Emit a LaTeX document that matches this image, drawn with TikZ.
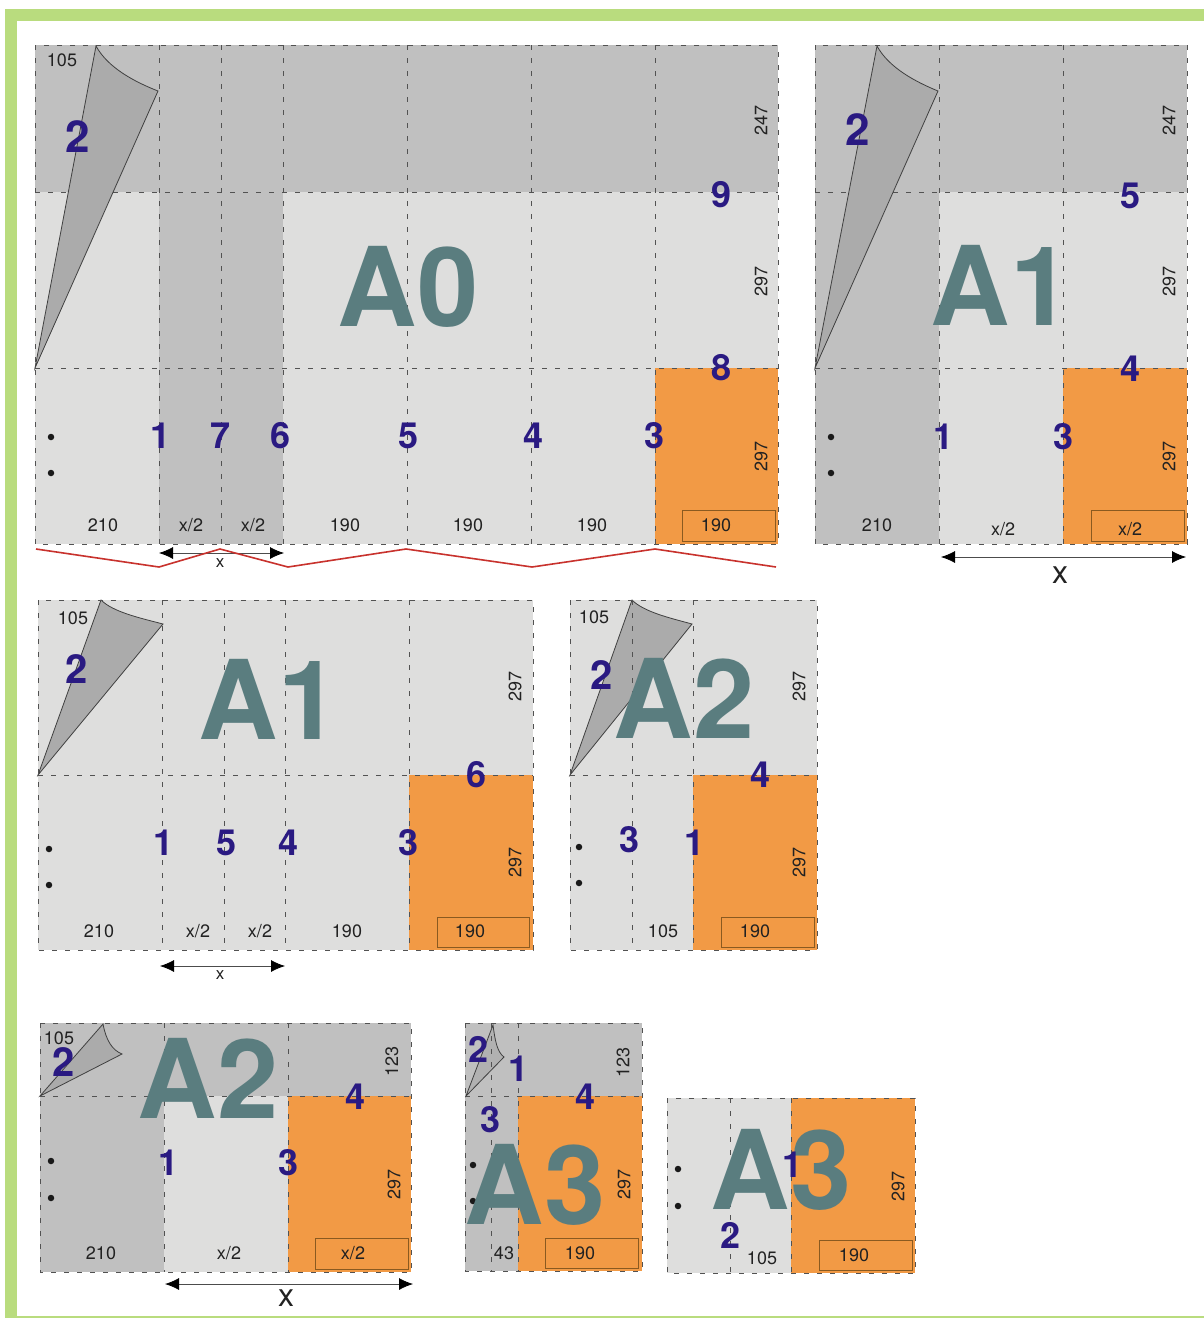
\documentclass[tikz,border=0pt]{standalone}
\usepackage{fontspec}
\setmainfont{TeX Gyre Heros}
\usetikzlibrary{arrows.meta}
\definecolor{lightp}{HTML}{DEDEDD}
\definecolor{darkp}{HTML}{C0C0C0}
\definecolor{flapc}{HTML}{ABABAB}
\definecolor{orangep}{HTML}{F29A45}
\definecolor{framegreen}{HTML}{B9DC7E}
\definecolor{bigtxt}{HTML}{5A7D7F}
\definecolor{numc}{HTML}{2A1A82}
\definecolor{boxc}{HTML}{8A5A20}
\definecolor{zigred}{HTML}{C8322D}
\definecolor{txtc}{HTML}{222222}
\tikzset{
  x=1pt,y=-1pt,
  fold/.style={draw=black!68,line width=1pt,dash pattern=on 5pt off 8pt},
  flap/.style={draw=black!75,fill=flapc,line width=0.8pt},
  big/.style={inner sep=0,text=bigtxt,font=\fontsize{#1}{#1}\selectfont\bfseries},
  nr/.style={inner sep=0,xshift=0.8pt,text=numc,font=\fontsize{#1}{#1}\selectfont\bfseries},
  nr/.default=36,
  lab/.style={inner sep=0,text=txtc,font=\fontsize{18}{18}\selectfont},
  vlab/.style={lab,rotate=90},
  sizebox/.style={draw=boxc,line width=1pt},
  hole/.style={circle,fill=black!90,inner sep=0,minimum size=6.5pt},
  dimarrow/.style={draw=black!70,line width=0.8pt,{Latex[length=14pt,width=12pt,black]}-{Latex[length=14pt,width=12pt,black]}},
  zig/.style={draw=zigred,line width=1.6pt}
}
\begin{document}
\begin{tikzpicture}
\useasboundingbox (0,0) rectangle (1204,1318);
% frame
\fill[framegreen] (5,9) rectangle (1204,1318);
\fill[white] (17,21) rectangle (1204,1316);
%
% A0
\fill[lightp] (35,45) rectangle (778,544);
\fill[darkp] (35,45) rectangle (778,192);
\fill[darkp] (159,192) rectangle (283,544);
\fill[orangep] (655,368) rectangle (778,544);
\draw[fold] (35,45) rectangle (778,544);
\draw[fold] (35,192) -- (778,192);
\draw[fold] (35,368) -- (778,368);
\foreach \vx in {159,221,283,407,531,655} \draw[fold] (\vx,45) -- (\vx,544);
\draw[flap] (35,368) -- (96,46) .. controls (108,68) and (135,82) .. (158,91) -- cycle;
\node[sizebox,minimum width=93pt,minimum height=31pt,anchor=north west] (a0box) at (682,510) {};
%
% A1 top right
\fill[lightp] (815,45) rectangle (1187,544);
\fill[darkp] (815,45) rectangle (1187,192);
\fill[darkp] (815,192) rectangle (939,544);
\fill[orangep] (1063,368) rectangle (1187,544);
\draw[fold] (815,45) rectangle (1187,544);
\draw[fold] (815,192) -- (1187,192);
\draw[fold] (815,368) -- (1187,368);
\foreach \vx in {939,1063} \draw[fold] (\vx,45) -- (\vx,544);
\draw[flap] (815,368) -- (877,46) .. controls (889,68) and (916,82) .. (938,91) -- cycle;
\node[sizebox,minimum width=93pt,minimum height=31pt,anchor=north west] (a1box) at (1091,510) {};
%
% A1 second row
\fill[lightp] (38,600) rectangle (533,950);
\fill[orangep] (409,775) rectangle (533,950);
\draw[flap] (38,775) -- (101,600) .. controls (113,612) and (140,618) .. (163,624) -- cycle;
\draw[fold] (38,600) rectangle (533,950);
\draw[fold] (38,775) -- (533,775);
\foreach \vx in {162,224,285,409} \draw[fold] (\vx,600) -- (\vx,950);
\node[sizebox,minimum width=92pt,minimum height=30pt,anchor=north west] (a1bbox) at (437,917) {};
%
% A2 second row
\fill[lightp] (570,600) rectangle (817,950);
\fill[orangep] (693,775) rectangle (817,950);
\draw[flap] (570,775) -- (632,600) .. controls (644,612) and (670,618) .. (692,624) -- cycle;
\draw[fold] (570,600) rectangle (817,950);
\draw[fold] (570,775) -- (817,775);
\foreach \vx in {632,693} \draw[fold] (\vx,600) -- (\vx,950);
\node[sizebox,minimum width=93pt,minimum height=30pt,anchor=north west] (a2box) at (721,917) {};
%
% A2 third row
\fill[darkp] (40,1023) rectangle (411,1272);
\fill[lightp] (164,1096) rectangle (288,1272);
\fill[orangep] (288,1096) rectangle (411,1272);
\draw[flap] (40,1096) -- (103,1024) .. controls (106,1040) and (112,1050) .. (122,1054) -- cycle;
\draw[fold] (40,1023) rectangle (411,1272);
\draw[fold] (40,1096) -- (411,1096);
\draw[fold] (164,1023) -- (164,1272);
\draw[fold] (288,1023) -- (288,1272);
\node[sizebox,minimum width=93pt,minimum height=31pt,anchor=north west] (a2cbox) at (315,1238) {};
%
% A3 left
\fill[darkp] (465,1023) rectangle (642,1271);
\fill[orangep] (518,1096) rectangle (642,1271);
\draw[flap,fill=flapc!70!darkp] (466,1096) -- (493,1025) .. controls (495,1040) and (497,1052) .. (504,1057) -- cycle;
\draw[fold] (465,1023) rectangle (642,1271);
\draw[fold] (465,1096) -- (642,1096);
\draw[fold] (491,1023) -- (491,1271);
\draw[fold] (518,1023) -- (518,1271);
\node[sizebox,minimum width=93pt,minimum height=30pt,anchor=north west] (a3box) at (545,1238) {};
%
% A3 right
\fill[lightp] (667,1098) rectangle (791,1273);
\fill[orangep] (791,1098) rectangle (915,1273);
\draw[fold] (667,1098) rectangle (915,1273);
\draw[fold] (730,1098) -- (730,1273);
\draw[fold] (791,1098) -- (791,1273);
\node[sizebox,minimum width=93pt,minimum height=30pt,anchor=north west] (a3bbox) at (819,1240) {};
%
% punch holes
\foreach \hn/\hx/\hy in {h1/51/437,h2/51/473,h3/831/437,h4/831/473,h5/49/849,h6/49/885,h7/579/847,h8/579/883,h9/51/1161,h10/51/1198,h11/473/1165,h12/473/1201,h13/678/1169,h14/678/1206}
  \node[hole] (\hn) at (\hx,\hy) {};
%
% big titles
\node[big=110] (ta0) at (408,287) {A0};
\node[big=110] (ta1) at (1001,285) {A1};
\node[big=110] (ta1b) at (269,699) {A1};
\node[big=110] (ta2) at (684,698) {A2};
\node[big=110] (ta2b) at (208,1078) {A2};
\node[big=110] (ta3) at (535,1185) {A3};
\node[big=110] (ta3b) at (781,1170) {A3};
%
% step numbers
\node[nr=44] (a0n2) at (77,137) {2};
\node[nr] (a0n1) at (160,436) {1};
\node[nr] (a0n7) at (220,436) {7};
\node[nr] (a0n6) at (280,436) {6};
\node[nr] (a0n5) at (408,436) {5};
\node[nr] (a0n4) at (533,436) {4};
\node[nr] (a0n3) at (654,436) {3};
\node[nr] (a0n8) at (721,368) {8};
\node[nr] (a0n9) at (721,195) {9};
\node[nr=44] (a1n2) at (857,130) {2};
\node[nr] (a1n5) at (1130,196) {5};
\node[nr] (a1n4) at (1130,369) {4};
\node[nr] (a1n1) at (943,437) {1};
\node[nr] (a1n3) at (1063,437) {3};
\node[nr=40] (bn2) at (76,669) {2};
\node[nr] (bn1) at (163,843) {1};
\node[nr] (bn5) at (226,843) {5};
\node[nr] (bn4) at (288,843) {4};
\node[nr] (bn3) at (408,843) {3};
\node[nr] (bn6) at (476,775) {6};
\node[nr=40] (cn2) at (601,675) {2};
\node[nr] (cn3) at (629,840) {3};
\node[nr] (cn1) at (694,843) {1};
\node[nr] (cn4) at (760,775) {4};
\node[nr=40] (dn2) at (63,1062) {2};
\node[nr] (dn1) at (168,1163) {1};
\node[nr] (dn3) at (288,1163) {3};
\node[nr] (dn4) at (355,1097) {4};
\node[nr] (en2) at (478,1049) {2};
\node[nr] (en1) at (518,1069) {1};
\node[nr] (en3) at (490,1120) {3};
\node[nr] (en4) at (585,1097) {4};
\node[nr] (fn1) at (792,1165) {1};
\node[nr] (fn2) at (730,1235) {2};
%
% dimension labels A0
\node[lab] (l1) at (62,60) {105};
\node[lab] (l2) at (103,525) {210};
\node[lab] (l3) at (191,525) {x/2};
\node[lab] (l4) at (253,525) {x/2};
\node[lab] (l5) at (345,525) {190};
\node[lab] (l6) at (468,525) {190};
\node[lab] (l7) at (592,525) {190};
\node[lab] (l8) at (716,525) {190};
\node[vlab] (l9) at (761,120) {247};
\node[vlab] (l10) at (761,281) {297};
\node[vlab] (l11) at (761,456) {297};
% A1 top right
\node[lab] (l12) at (877,525) {210};
\node[lab] (l13) at (1003,529) {x/2};
\node[lab] (l14) at (1130,529) {x/2};
\node[vlab] (l15) at (1169,120) {247};
\node[vlab] (l16) at (1169,281) {297};
\node[vlab] (l17) at (1169,456) {297};
% A1 second row
\node[lab] (l18) at (73,618) {105};
\node[lab] (l19) at (99,931) {210};
\node[lab] (l20) at (198,931) {x/2};
\node[lab] (l21) at (260,931) {x/2};
\node[lab] (l22) at (347,931) {190};
\node[lab] (l23) at (470,931) {190};
\node[vlab] (l24) at (515,686) {297};
\node[vlab] (l25) at (515,862) {297};
% A2 second row
\node[lab] (l26) at (594,617) {105};
\node[lab] (l27) at (663,931) {105};
\node[lab] (l28) at (755,931) {190};
\node[vlab] (l29) at (799,686) {297};
\node[vlab] (l30) at (799,862) {297};
% A2 third row
\node[lab] (l31) at (59,1038) {105};
\node[lab] (l32) at (101,1253) {210};
\node[lab] (l33) at (229,1253) {x/2};
\node[lab] (l34) at (353,1253) {x/2};
\node[vlab] (l35) at (392,1061) {123};
\node[vlab] (l36) at (394,1184) {297};
% A3 left
\node[lab] (l37) at (504,1253) {43};
\node[lab] (l38) at (580,1253) {190};
\node[vlab] (l39) at (623,1062) {123};
\node[vlab] (l40) at (624,1184) {297};
% A3 right
\node[lab] (l41) at (762,1258) {105};
\node[lab] (l42) at (854,1255) {190};
\node[vlab] (l43) at (898,1186) {297};
%
% width arrows
\coordinate (ar1a) at (159,553); \coordinate (ar1b) at (284,553);
\draw[dimarrow] (ar1a) -- (ar1b);
\node[lab,font=\fontsize{17}{17}\selectfont] (xa) at (220,563) {x};
\coordinate (ar2a) at (941,557); \coordinate (ar2b) at (1186,557);
\draw[dimarrow] (ar2a) -- (ar2b);
\node[lab,font=\fontsize{32}{32}\selectfont] (xb) at (1060,575) {x};
\coordinate (ar3a) at (160,966); \coordinate (ar3b) at (285,966);
\draw[dimarrow] (ar3a) -- (ar3b);
\node[lab,font=\fontsize{17}{17}\selectfont] (xc) at (220,975) {x};
\coordinate (ar4a) at (165,1284); \coordinate (ar4b) at (413,1284);
\draw[dimarrow] (ar4a) -- (ar4b);
\node[lab,font=\fontsize{32}{32}\selectfont] (xd) at (286,1298) {x};
%
% red zigzag
\coordinate (z1) at (36,549); \coordinate (z2) at (159,567); \coordinate (z3) at (220,549);
\coordinate (z4) at (288,567); \coordinate (z5) at (406,549); \coordinate (z6) at (532,567);
\coordinate (z7) at (655,549); \coordinate (z8) at (776,567);
\draw[zig] (z1) -- (z2) -- (z3) -- (z4) -- (z5) -- (z6) -- (z7) -- (z8);
\end{tikzpicture}
\end{document}
